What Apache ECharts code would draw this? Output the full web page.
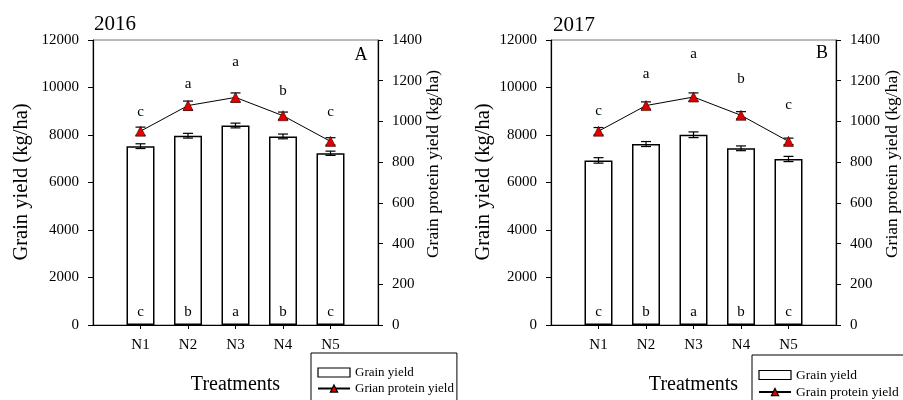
<!DOCTYPE html>
<html>
<head>
<meta charset="utf-8">
<script src="https://cdn.jsdelivr.net/npm/echarts@6/dist/echarts.min.js"></script>
<style>
  html, body { margin: 0; padding: 0; background: #fff; }
  #chart { width: 903px; height: 400px; }
</style>
</head>
<body>
<div id="chart"></div>
<script>
// Treatments and axis ranges
const treatments = ['N1', 'N2', 'N3', 'N4', 'N5'];
const yieldTicks = { min: 0, max: 12000, step: 2000 };
const proteinTicks = { min: 0, max: 1400, step: 200 };

// 2016 (panel A)
const yield2016 = [7530, 7970, 8400, 7940, 7230];
const yieldErr2016 = [100, 100, 100, 100, 90];
const protein2016 = [952, 1078, 1118, 1028, 902];
const proteinErr2016 = [20, 22, 22, 18, 18];

// 2017 (panel B)
const yield2017 = [6930, 7620, 8010, 7440, 6990];
const yieldErr2017 = [115, 105, 120, 100, 110];
const protein2017 = [952, 1078, 1120, 1030, 902];
const proteinErr2017 = [18, 18, 20, 18, 16];

// Significance letters
const yieldLetters = ['c', 'b', 'a', 'b', 'c'];
const proteinLetters = ['c', 'a', 'a', 'b', 'c'];

// Vertical lift (px) of the protein letters above each marker
const liftA = [19, 21, 35, 25, 29];
const liftB = [20, 31, 43, 36, 36];

const FONT = "'Liberation Serif', 'Times New Roman', serif";
const axisCats = [''].concat(treatments, ['']);

function errorBars(gridIdx, yAxisIdx, values, errs, name) {
  return {
    type: 'custom',
    name: name,
    xAxisIndex: gridIdx,
    yAxisIndex: yAxisIdx,
    z: 3,
    silent: true,
    encode: { x: 0, y: 1 },
    data: values.map((v, i) => [i + 1, v, errs[i]]),
    renderItem: function (params, api) {
      const x = api.value(0), v = api.value(1), e = api.value(2);
      const lo = api.coord([x, v - e]);
      const hi = api.coord([x, v + e]);
      const hw = 5;
      const st = { stroke: '#000', lineWidth: 1.2 };
      return {
        type: 'group',
        children: [
          { type: 'line', shape: { x1: lo[0], y1: lo[1], x2: hi[0], y2: hi[1] }, style: st },
          { type: 'line', shape: { x1: lo[0] - hw, y1: lo[1], x2: lo[0] + hw, y2: lo[1] }, style: st },
          { type: 'line', shape: { x1: hi[0] - hw, y1: hi[1], x2: hi[0] + hw, y2: hi[1] }, style: st }
        ]
      };
    }
  };
}

function panelSeries(gridIdx, yields, yErr, prot, pErr, lifts, protName) {
  const yLeft = gridIdx * 2, yRight = gridIdx * 2 + 1;
  return [
    {
      type: 'bar',
      name: 'Grain yield',
      xAxisIndex: gridIdx,
      yAxisIndex: yLeft,
      barWidth: 28,
      itemStyle: { color: '#fff', borderColor: '#000', borderWidth: 1.5 },
      label: {
        show: true, position: 'insideBottom', distance: 5,
        fontFamily: FONT, fontSize: 15, color: '#000',
        formatter: p => yieldLetters[p.dataIndex]
      },
      data: yields.map((v, i) => [i + 1, v])
    },
    errorBars(gridIdx, yLeft, yields, yErr, 'yieldErr' + gridIdx),
    {
      type: 'line',
      name: protName,
      xAxisIndex: gridIdx,
      yAxisIndex: yRight,
      z: 4,
      symbol: 'triangle',
      symbolSize: 10,
      lineStyle: { color: '#000', width: 1 },
      itemStyle: { color: '#e00000', borderColor: '#300', borderWidth: 0.6 },
      label: {
        show: true, position: 'inside',
        fontFamily: FONT, fontSize: 15, color: '#000',
        formatter: p => proteinLetters[p.dataIndex]
      },
      data: prot.map((v, i) => ({
        value: [i + 1, v],
        label: { offset: [0, -lifts[i]] }
      }))
    },
    errorBars(gridIdx, yRight, prot, pErr, 'protErr' + gridIdx)
  ];
}

function xAxisFor(gridIdx) {
  return {
    type: 'category',
    gridIndex: gridIdx,
    data: axisCats,
    boundaryGap: false,
    name: 'Treatments',
    nameLocation: 'middle',
    nameGap: 50,
    nameTextStyle: { fontFamily: FONT, fontSize: 20, color: '#000' },
    axisLine: { show: true, lineStyle: { color: '#000', width: 1.2 } },
    axisTick: {
      show: true, length: 4, inside: false,
      interval: (i) => i > 0 && i < axisCats.length - 1,
      lineStyle: { color: '#000' }
    },
    axisLabel: { interval: 0, margin: 13, fontFamily: FONT, fontSize: 15, color: '#000' },
    splitLine: { show: false }
  };
}

function yAxisFor(gridIdx, ticks, side) {
  return {
    type: 'value',
    gridIndex: gridIdx,
    position: side,
    min: ticks.min, max: ticks.max, interval: ticks.step,
    axisLine: { show: true, lineStyle: { color: '#000', width: 1.2 } },
    axisTick: { show: true, inside: false, length: 5, lineStyle: { color: '#000' } },
    axisLabel: {
      margin: 14, fontFamily: FONT, fontSize: 15, color: '#000',
      formatter: v => String(v)
    },
    splitLine: { show: false }
  };
}

function legendFor(left, top, protName, padRight, fontSize) {
  return {
    orient: 'vertical',
    left: left, top: top,
    height: 44,
    padding: [13, padRight, 30, 6],
    itemGap: 3,
    itemWidth: 32,
    itemHeight: 9,
    itemStyle: { borderColor: '#000', borderWidth: 1.2 },
    borderColor: '#000',
    borderWidth: 1,
    selectedMode: false,
    textStyle: { fontFamily: FONT, fontSize: fontSize, color: '#000' },
    data: [
      { name: 'Grain yield', icon: 'rect' },
      { name: protName }
    ]
  };
}

function vText(x, y, text, size) {
  return {
    type: 'text', x: x, y: y, rotation: Math.PI / 2,
    style: {
      text: text, fill: '#000', font: size + 'px ' + FONT,
      textAlign: 'center', textVerticalAlign: 'middle'
    }
  };
}

function hText(x, y, text, size) {
  return {
    type: 'text', x: x, y: y,
    style: {
      text: text, fill: '#000', font: size + 'px ' + FONT,
      textAlign: 'center', textVerticalAlign: 'middle'
    }
  };
}

const chart = echarts.init(document.getElementById('chart'), null, { renderer: 'canvas' });

chart.setOption({
  animation: false,
  backgroundColor: '#fff',
  grid: [
    { left: 93, top: 40, width: 285, height: 285, show: true, borderColor: '#777', borderWidth: 1, backgroundColor: 'transparent' },
    { left: 551, top: 40, width: 285, height: 285, show: true, borderColor: '#777', borderWidth: 1, backgroundColor: 'transparent' }
  ],
  xAxis: [xAxisFor(0), xAxisFor(1)],
  yAxis: [
    yAxisFor(0, yieldTicks, 'left'),
    yAxisFor(0, proteinTicks, 'right'),
    yAxisFor(1, yieldTicks, 'left'),
    yAxisFor(1, proteinTicks, 'right')
  ],
  legend: [
    legendFor(311, 353, 'Grian protein yield', 3, 13),
    legendFor(752, 355, 'Grain protein yield', 12, 13.5)
  ],
  graphic: [
    hText(115, 24, '2016', 21),
    hText(361, 55, 'A', 18),
    vText(22, 182, 'Grain yield (kg/ha)', 20.5),
    vText(433, 164, 'Grain protein yield (kg/ha)', 17.5),
    hText(574, 25, '2017', 21),
    hText(822, 53, 'B', 18),
    vText(484, 182, 'Grain yield (kg/ha)', 20.5),
    vText(892, 164, 'Grian protein yield (kg/ha)', 17.5)
  ],
  series: [].concat(
    panelSeries(0, yield2016, yieldErr2016, protein2016, proteinErr2016, liftA, 'Grian protein yield'),
    panelSeries(1, yield2017, yieldErr2017, protein2017, proteinErr2017, liftB, 'Grain protein yield')
  )
});
</script>
</body>
</html>
